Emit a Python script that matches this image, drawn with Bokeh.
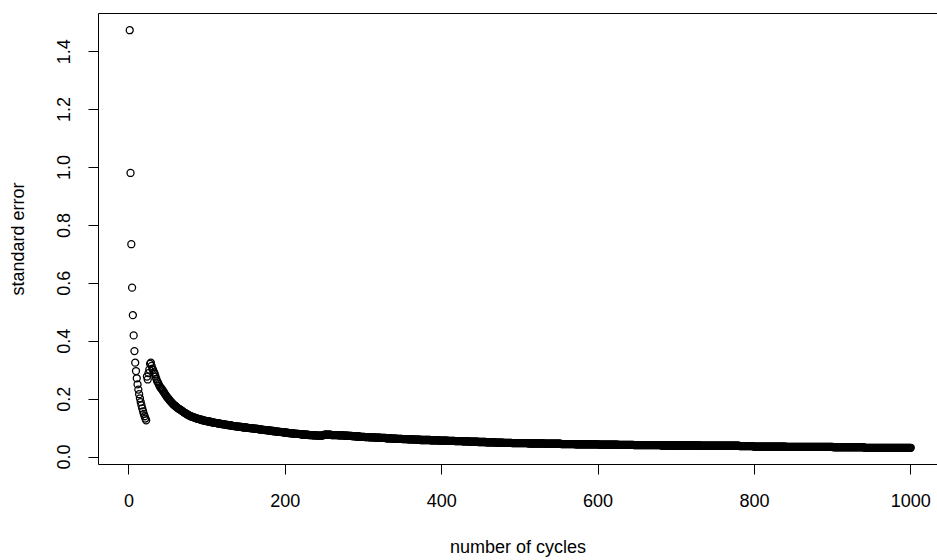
from bokeh.plotting import figure
from bokeh.models import Range1d, FixedTicker, PrintfTickFormatter, LinearAxis, ColumnDataSource
from bokeh.embed import file_html
from bokeh.resources import INLINE

# standard error after each cycle
se = [
    1.474, 0.981, 0.735, 0.585, 0.490, 0.420, 0.366, 0.326, 0.297, 0.272, 0.251, 0.233, 0.217, 0.203, 0.190, 0.179, 0.168, 0.158, 0.149, 0.141,
    0.133, 0.127, 0.278, 0.268, 0.290, 0.302, 0.322, 0.326, 0.315, 0.305, 0.300, 0.292, 0.287, 0.278, 0.270, 0.262, 0.258, 0.252, 0.246, 0.241,
    0.238, 0.235, 0.230, 0.227, 0.222, 0.218, 0.214, 0.210, 0.206, 0.203, 0.200, 0.196, 0.193, 0.190, 0.187, 0.184, 0.181, 0.179, 0.177, 0.175,
    0.172, 0.170, 0.168, 0.166, 0.165, 0.163, 0.161, 0.159, 0.157, 0.155, 0.153, 0.152, 0.150, 0.148, 0.147, 0.145, 0.144, 0.142, 0.141, 0.140,
    0.139, 0.138, 0.137, 0.136, 0.135, 0.134, 0.133, 0.132, 0.132, 0.131, 0.130, 0.129, 0.128, 0.128, 0.127, 0.126, 0.126, 0.125, 0.124, 0.124,
    0.123, 0.123, 0.122, 0.122, 0.121, 0.120, 0.120, 0.119, 0.119, 0.118, 0.118, 0.117, 0.117, 0.116, 0.116, 0.115, 0.115, 0.114, 0.114, 0.114,
    0.113, 0.113, 0.112, 0.112, 0.111, 0.111, 0.110, 0.110, 0.110, 0.109, 0.109, 0.108, 0.108, 0.107, 0.107, 0.107, 0.106, 0.106, 0.105, 0.105,
    0.105, 0.104, 0.104, 0.104, 0.103, 0.103, 0.103, 0.102, 0.102, 0.102, 0.101, 0.101, 0.101, 0.100, 0.100, 0.100, 0.099, 0.099, 0.099, 0.098,
    0.098, 0.098, 0.097, 0.097, 0.097, 0.096, 0.096, 0.096, 0.095, 0.095, 0.094, 0.094, 0.094, 0.093, 0.093, 0.093, 0.092, 0.092, 0.092, 0.091,
    0.091, 0.091, 0.090, 0.090, 0.090, 0.089, 0.089, 0.089, 0.088, 0.088, 0.088, 0.087, 0.087, 0.087, 0.086, 0.086, 0.086, 0.085, 0.085, 0.085,
    0.084, 0.084, 0.084, 0.083, 0.083, 0.083, 0.082, 0.082, 0.082, 0.082, 0.081, 0.081, 0.081, 0.080, 0.080, 0.080, 0.080, 0.079, 0.079, 0.079,
    0.078, 0.078, 0.078, 0.078, 0.077, 0.077, 0.077, 0.077, 0.077, 0.076, 0.076, 0.076, 0.076, 0.076, 0.075, 0.075, 0.075, 0.075, 0.075, 0.075,
    0.074, 0.074, 0.074, 0.074, 0.074, 0.074, 0.074, 0.075, 0.076, 0.077, 0.077, 0.077, 0.077, 0.077, 0.077, 0.077, 0.077, 0.077, 0.076, 0.076,
    0.076, 0.076, 0.076, 0.076, 0.076, 0.076, 0.076, 0.075, 0.075, 0.075, 0.075, 0.075, 0.075, 0.075, 0.074, 0.074, 0.074, 0.074, 0.074, 0.074,
    0.073, 0.073, 0.073, 0.073, 0.073, 0.072, 0.072, 0.072, 0.072, 0.072, 0.071, 0.071, 0.071, 0.071, 0.071, 0.070, 0.070, 0.070, 0.070, 0.070,
    0.070, 0.069, 0.069, 0.069, 0.069, 0.069, 0.069, 0.068, 0.068, 0.068, 0.068, 0.068, 0.068, 0.068, 0.067, 0.067, 0.067, 0.067, 0.067, 0.067,
    0.067, 0.066, 0.066, 0.066, 0.066, 0.066, 0.066, 0.066, 0.065, 0.065, 0.065, 0.065, 0.065, 0.065, 0.065, 0.064, 0.064, 0.064, 0.064, 0.064,
    0.064, 0.064, 0.063, 0.063, 0.063, 0.063, 0.063, 0.063, 0.063, 0.062, 0.062, 0.062, 0.062, 0.062, 0.062, 0.062, 0.061, 0.061, 0.061, 0.061,
    0.061, 0.061, 0.061, 0.061, 0.060, 0.060, 0.060, 0.060, 0.060, 0.060, 0.060, 0.060, 0.059, 0.059, 0.059, 0.059, 0.059, 0.059, 0.059, 0.059,
    0.059, 0.059, 0.059, 0.059, 0.059, 0.058, 0.058, 0.058, 0.058, 0.058, 0.058, 0.058, 0.058, 0.058, 0.058, 0.058, 0.057, 0.057, 0.057, 0.057,
    0.057, 0.057, 0.057, 0.057, 0.057, 0.057, 0.057, 0.056, 0.056, 0.056, 0.056, 0.056, 0.056, 0.056, 0.056, 0.056, 0.055, 0.055, 0.055, 0.055,
    0.055, 0.055, 0.055, 0.055, 0.055, 0.055, 0.054, 0.054, 0.054, 0.054, 0.054, 0.054, 0.054, 0.054, 0.054, 0.053, 0.053, 0.053, 0.053, 0.053,
    0.053, 0.053, 0.053, 0.053, 0.053, 0.053, 0.052, 0.052, 0.052, 0.052, 0.052, 0.052, 0.052, 0.052, 0.052, 0.052, 0.051, 0.051, 0.051, 0.051,
    0.051, 0.051, 0.051, 0.051, 0.051, 0.051, 0.051, 0.051, 0.050, 0.050, 0.050, 0.050, 0.050, 0.050, 0.050, 0.050, 0.050, 0.050, 0.049, 0.049,
    0.049, 0.049, 0.049, 0.049, 0.049, 0.049, 0.049, 0.049, 0.049, 0.048, 0.048, 0.048, 0.048, 0.048, 0.048, 0.048, 0.048, 0.048, 0.048, 0.048,
    0.048, 0.048, 0.048, 0.048, 0.048, 0.048, 0.048, 0.048, 0.048, 0.048, 0.047, 0.047, 0.047, 0.047, 0.047, 0.047, 0.047, 0.047, 0.047, 0.047,
    0.047, 0.047, 0.047, 0.047, 0.047, 0.047, 0.047, 0.047, 0.047, 0.047, 0.046, 0.046, 0.046, 0.046, 0.046, 0.046, 0.046, 0.046, 0.046, 0.046,
    0.046, 0.046, 0.046, 0.046, 0.046, 0.046, 0.046, 0.046, 0.046, 0.046, 0.046, 0.046, 0.045, 0.045, 0.045, 0.045, 0.045, 0.045, 0.045, 0.045,
    0.045, 0.045, 0.045, 0.045, 0.045, 0.045, 0.045, 0.045, 0.045, 0.045, 0.044, 0.044, 0.044, 0.044, 0.044, 0.044, 0.044, 0.044, 0.044, 0.044,
    0.044, 0.044, 0.044, 0.044, 0.044, 0.044, 0.044, 0.044, 0.044, 0.044, 0.044, 0.044, 0.044, 0.044, 0.044, 0.044, 0.044, 0.044, 0.044, 0.044,
    0.043, 0.043, 0.043, 0.043, 0.043, 0.043, 0.043, 0.043, 0.043, 0.043, 0.043, 0.043, 0.043, 0.043, 0.043, 0.043, 0.043, 0.043, 0.043, 0.043,
    0.043, 0.043, 0.043, 0.043, 0.043, 0.042, 0.042, 0.042, 0.042, 0.042, 0.042, 0.042, 0.042, 0.042, 0.042, 0.042, 0.042, 0.042, 0.042, 0.042,
    0.042, 0.042, 0.042, 0.042, 0.042, 0.041, 0.041, 0.041, 0.041, 0.041, 0.041, 0.041, 0.041, 0.041, 0.041, 0.041, 0.041, 0.041, 0.041, 0.041,
    0.041, 0.041, 0.041, 0.041, 0.041, 0.041, 0.041, 0.041, 0.041, 0.041, 0.041, 0.041, 0.041, 0.041, 0.041, 0.041, 0.041, 0.041, 0.041, 0.041,
    0.040, 0.040, 0.040, 0.040, 0.040, 0.040, 0.040, 0.040, 0.040, 0.040, 0.040, 0.040, 0.040, 0.040, 0.040, 0.040, 0.040, 0.040, 0.040, 0.040,
    0.040, 0.040, 0.040, 0.040, 0.040, 0.040, 0.040, 0.040, 0.040, 0.040, 0.040, 0.040, 0.040, 0.040, 0.040, 0.040, 0.040, 0.040, 0.040, 0.040,
    0.040, 0.040, 0.040, 0.040, 0.040, 0.040, 0.040, 0.040, 0.040, 0.040, 0.039, 0.039, 0.039, 0.039, 0.039, 0.039, 0.039, 0.039, 0.039, 0.039,
    0.039, 0.039, 0.039, 0.039, 0.039, 0.039, 0.039, 0.039, 0.039, 0.039, 0.039, 0.039, 0.039, 0.039, 0.039, 0.039, 0.039, 0.039, 0.039, 0.039,
    0.039, 0.039, 0.039, 0.039, 0.039, 0.039, 0.039, 0.039, 0.039, 0.039, 0.039, 0.039, 0.039, 0.039, 0.039, 0.039, 0.039, 0.039, 0.039, 0.039,
    0.038, 0.038, 0.038, 0.038, 0.038, 0.038, 0.038, 0.038, 0.038, 0.038, 0.038, 0.038, 0.038, 0.038, 0.038, 0.038, 0.038, 0.038, 0.036, 0.036,
    0.036, 0.036, 0.036, 0.036, 0.036, 0.036, 0.036, 0.036, 0.036, 0.036, 0.036, 0.036, 0.036, 0.036, 0.036, 0.036, 0.036, 0.036, 0.036, 0.036,
    0.036, 0.036, 0.036, 0.036, 0.036, 0.036, 0.036, 0.036, 0.036, 0.036, 0.036, 0.036, 0.036, 0.036, 0.036, 0.036, 0.036, 0.036, 0.036, 0.036,
    0.035, 0.035, 0.035, 0.035, 0.035, 0.035, 0.035, 0.035, 0.035, 0.035, 0.035, 0.035, 0.035, 0.035, 0.035, 0.035, 0.035, 0.035, 0.035, 0.035,
    0.035, 0.035, 0.035, 0.035, 0.035, 0.035, 0.035, 0.035, 0.035, 0.035, 0.035, 0.035, 0.035, 0.035, 0.035, 0.035, 0.035, 0.035, 0.035, 0.035,
    0.035, 0.035, 0.035, 0.035, 0.035, 0.035, 0.035, 0.035, 0.035, 0.035, 0.035, 0.035, 0.035, 0.035, 0.035, 0.035, 0.035, 0.035, 0.035, 0.035,
    0.034, 0.034, 0.034, 0.034, 0.034, 0.034, 0.034, 0.034, 0.034, 0.034, 0.034, 0.034, 0.034, 0.034, 0.034, 0.034, 0.034, 0.034, 0.034, 0.034,
    0.034, 0.034, 0.034, 0.034, 0.034, 0.034, 0.034, 0.034, 0.034, 0.034, 0.034, 0.034, 0.034, 0.034, 0.034, 0.034, 0.034, 0.034, 0.034, 0.034,
    0.032, 0.032, 0.032, 0.032, 0.032, 0.032, 0.032, 0.032, 0.032, 0.032, 0.032, 0.032, 0.032, 0.032, 0.032, 0.032, 0.032, 0.032, 0.032, 0.032,
    0.032, 0.032, 0.032, 0.032, 0.032, 0.032, 0.032, 0.032, 0.032, 0.032, 0.032, 0.032, 0.032, 0.032, 0.032, 0.032, 0.032, 0.032, 0.032, 0.032,
    0.032, 0.032, 0.032, 0.032, 0.032, 0.032, 0.032, 0.032, 0.032, 0.032, 0.032, 0.032, 0.032, 0.032, 0.032, 0.032, 0.032, 0.032, 0.032, 0.032,
]
cycles = list(range(1, len(se) + 1))

x_ticks = [0, 200, 400, 600, 800, 1000]
y_ticks = [0.0, 0.2, 0.4, 0.6, 0.8, 1.0, 1.2, 1.4]
x_title = "number of cycles"
y_title = "standard error"

FONT = "Liberation Sans"

# R-style 4% range extension
xspan = max(cycles) - min(cycles)
yspan = max(se) - min(se)
x_range = Range1d(min(cycles) - 0.04 * xspan, max(cycles) + 0.0342 * xspan)
y_range = Range1d(min(se) - 0.04 * yspan, max(se) + 0.04 * yspan)

p = figure(width=937, height=560, output_backend="svg", toolbar_location=None,
           x_range=x_range, y_range=y_range,
           min_border_left=98, min_border_right=0, min_border_top=13, min_border_bottom=96)
p.background_fill_color = "white"
p.border_fill_color = "white"
p.outline_line_color = None
p.grid.visible = False

src = ColumnDataSource(dict(x=cycles, y=se))
p.scatter("x", "y", source=src, marker="circle", size=7, fill_color=None,
          line_color="black", line_width=1.3)

for ax in (p.xaxis[0], p.yaxis[0]):
    ax.axis_line_color = "black"
    ax.axis_line_width = 1
    ax.major_tick_line_color = "black"
    ax.major_tick_out = 10
    ax.major_tick_in = 0
    ax.minor_tick_line_color = None
    ax.major_label_text_font = FONT
    ax.major_label_text_font_size = "18px"
    ax.major_label_text_color = "black"
    ax.axis_label_text_font = FONT
    ax.axis_label_text_font_size = "18px"
    ax.axis_label_text_font_style = "normal"
    ax.axis_label_text_color = "black"

p.xaxis.ticker = FixedTicker(ticks=x_ticks)
p.xaxis.axis_label = x_title
p.xaxis.major_label_standoff = 19
p.xaxis.axis_label_standoff = 27

p.yaxis.ticker = FixedTicker(ticks=y_ticks)
p.yaxis.formatter = PrintfTickFormatter(format="%.1f")
p.yaxis.major_label_orientation = "parallel"
p.yaxis.axis_label = y_title
p.yaxis.major_label_standoff = 18
p.yaxis.axis_label_standoff = 27

top = LinearAxis(ticker=FixedTicker(ticks=[]), axis_line_color="black", axis_line_width=1,
                 major_tick_line_color=None, minor_tick_line_color=None)
p.add_layout(top, "above")

open("out.html", "w").write(file_html(p, INLINE))
